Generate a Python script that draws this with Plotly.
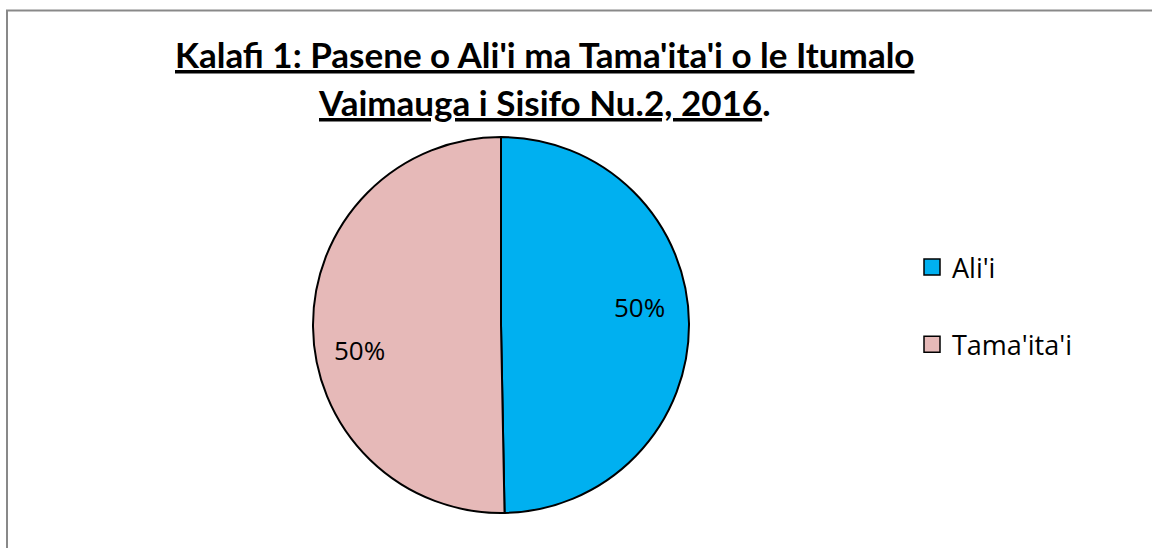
import plotly.graph_objects as go

labels = ["Ali'i", "Tama'ita'i"]
values = [49.7, 50.3]
colors = ["#00B0F0", "#E6B9B8"]
title_lines = ["<b><u>Kalafi 1: Pasene o Ali'i ma Tama'ita'i o le Itumalo</u></b>",
               "<b><u>Vaimauga i Sisifo Nu.2, 2016</u>.</b>"]

W, H = 1152, 548
cx, cy, r = 501, 325, 188
FONT = "Open Sans"
TFONT = "Lato"

fig = go.Figure()
fig.add_trace(go.Pie(
    labels=labels, values=values, sort=False, direction="clockwise", rotation=0,
    marker=dict(colors=colors, line=dict(color="black", width=2)),
    textinfo="none", showlegend=False, hoverinfo="label+percent",
    domain=dict(x=[(cx - r) / W, (cx + r) / W], y=[(H - cy - r) / H, (H - cy + r) / H]),
))
for lab, col in zip(labels, colors):
    fig.add_trace(go.Scatter(
        x=[None], y=[None], mode="markers", name=lab, legendgroup=lab,
        marker=dict(symbol="square", size=16, color=col, line=dict(color="black", width=1.5)),
    ))

total = sum(values)
label_pos = [(639, 307), (359, 350)]
for v, (px, py) in zip(values, label_pos):
    fig.add_annotation(x=px / W, y=1 - py / H, xref="paper", yref="paper",
                       xanchor="center", yanchor="middle",
                       text=f"{round(v / total * 100)}%", showarrow=False,
                       font=dict(family=FONT, size=26, color="#000"))

for line, ty in zip(title_lines, [54, 102]):
    fig.add_annotation(x=544 / W, y=1 - ty / H, xref="paper", yref="paper",
                       xanchor="center", yanchor="middle",
                       text=line, showarrow=False,
                       font=dict(family=TFONT, size=35, color="#000"))

fig.add_shape(type="rect", xref="paper", yref="paper",
              x0=7 / W, x1=1.02, y0=-0.05, y1=1 - 10.5 / H,
              line=dict(color="#898989", width=2))

fig.update_layout(
    width=W, height=H, margin=dict(l=0, r=0, t=0, b=0),
    paper_bgcolor="white", plot_bgcolor="white",
    xaxis=dict(visible=False), yaxis=dict(visible=False),
    legend=dict(x=912 / W, y=1 - 243 / H, xanchor="left", yanchor="top",
                font=dict(family=FONT, size=27, color="#000"),
                tracegroupgap=39, itemwidth=30, bgcolor="rgba(0,0,0,0)"),
)
fig.write_html("out.html", config={"displayModeBar": False},
               post_script="document.body.style.margin='0';document.body.style.overflow='hidden';")
